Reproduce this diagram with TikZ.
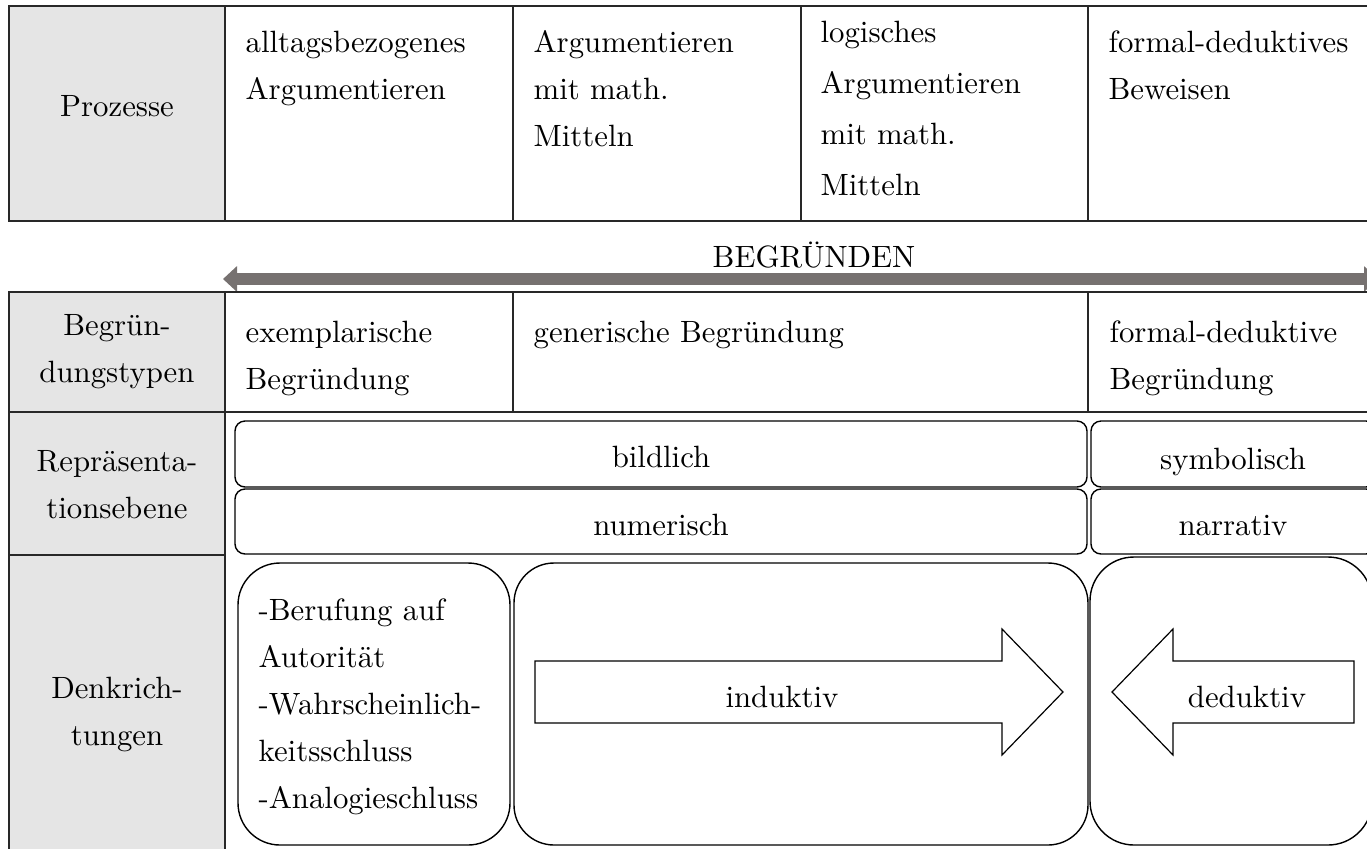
\documentclass[tikz,border=0pt]{standalone}
\usetikzlibrary{arrows.meta}
\definecolor{cellgray}{RGB}{229,229,229}
\definecolor{bandgray}{RGB}{118,113,112}
\definecolor{rulegray}{RGB}{40,40,40}
% 10pt design, enlarged by the node scale below
\newcommand\diagfont{\fontsize{10pt}{15.3pt}\selectfont}
\newcommand\widefont{\fontsize{10pt}{16.6pt}\selectfont}
\newcommand\tops{\rule{0pt}{10pt}}
\begin{document}
\begin{tikzpicture}[x=0.5pt,y=-0.5pt,
  grid/.style={draw=rulegray, line width=0.9pt},
  box/.style={draw=black, line width=0.7pt, rounded corners=5pt},
  bigbox/.style={draw=black, line width=0.7pt, rounded corners=21pt},
  flatarrow/.style={draw=black, line width=0.6pt, line join=miter},
  lbl/.style={inner sep=0pt, font=\diagfont, scale=1.54},
  para/.style={lbl, align=left, anchor=north west},
  side/.style={lbl, align=center, anchor=north},
  word/.style={lbl, anchor=base},
]
\useasboundingbox (0,0) rectangle (1367,848);
\clip (0,0) rectangle (1367,848);

% ---------- upper table: processes ----------
\fill[cellgray] (9,6) rectangle (225,221);
\draw[grid] (1380,6) -- (9,6) -- (9,221) -- (1380,221);
\draw[grid] (225,6) -- (225,221) (513,6) -- (513,221)
            (801,6) -- (801,221) (1088,6) -- (1088,221);

% node tops sit 30.8 units above the first baseline
\node[word] (prozesse) at (117,116) {Prozesse};
\node[para] (alltag) at (245,21) {\tops alltagsbezogenes\\Argumentieren};
\node[para] (argmath) at (533,21) {\tops Argumentieren\\mit math.\\Mitteln};
\node[para, font=\widefont] (logisch) at (820,11) {\tops logisches\\Argumentieren\\mit math.\\Mitteln};
\node[para] (formal) at (1108,21) {\tops formal-deduktives\\Beweisen};

% ---------- band ----------
\node[word] (begruenden) at (814,267) {BEGRÜNDEN};
\coordinate (bandL) at (223,279);
\coordinate (bandR) at (1378,279);
\draw[bandgray, line width=6pt,
      {Triangle[length=7pt,width=12.5pt]}-{Triangle[length=7pt,width=12.5pt]}]
      (bandL) -- (bandR);

% ---------- lower table ----------
\fill[cellgray] (9,292) rectangle (225,860);
\draw[grid] (1380,292) -- (9,292) -- (9,860);
\draw[grid] (9,412) -- (1380,412);
\draw[grid] (9,555) -- (225,555);
\draw[grid] (225,292) -- (225,860) (513,292) -- (513,412) (1088,292) -- (1088,412);

% row: types of justification
\node[side] (typen) at (117,304) {\tops Begrün-\\dungstypen};
\node[para] (exempl) at (245,311) {\tops exemplarische\\Begründung};
\node[para] (generisch) at (533,311) {\tops generische Begründung};
\node[para] (formalbeg) at (1109,311) {\tops formal-deduktive\\Begründung};

% row: representation level
\node[side] (repr) at (117,440) {\tops Repräsenta-\\tionsebene};
\draw[box] (235,421) rectangle (1087,487);
\draw[box] (235,489) rectangle (1087,554);
\draw[box] (1091,421) rectangle (1376,487);
\draw[box] (1091,489) rectangle (1376,554);
\node[word] (bildlich) at (661,467) {bildlich};
\node[word] (numerisch) at (661,535) {numerisch};
\node[word] (symbolisch) at (1233,469) {symbolisch};
\node[word] (narrativ) at (1233,535) {narrativ};

% row: directions of thought
\node[side] (denk) at (117,667) {\tops Denkrich-\\tungen};
\draw[bigbox] (238,563) rectangle (510,845);
\draw[bigbox, rounded corners=20pt] (514,563) rectangle (1088,845);
\draw[bigbox, rounded corners=22pt] (1090,557) rectangle (1372,845);
\node[para] (schluesse) at (258,589)
  {\tops -Berufung auf\\Autorität\\-Wahrscheinlich-\\keitsschluss\\-Analogieschluss};

\draw[flatarrow] (535,661) -- (1002,661) -- (1002,629) -- (1063,692)
  -- (1002,755) -- (1002,723) -- (535,723) -- cycle;
\node[word] (induktiv) at (782,707) {induktiv};

\draw[flatarrow] (1354,661) -- (1173,661) -- (1173,629) -- (1112,692)
  -- (1173,755) -- (1173,723) -- (1354,723) -- cycle;
\node[word] (deduktiv) at (1247,707) {deduktiv};
\end{tikzpicture}
\end{document}
